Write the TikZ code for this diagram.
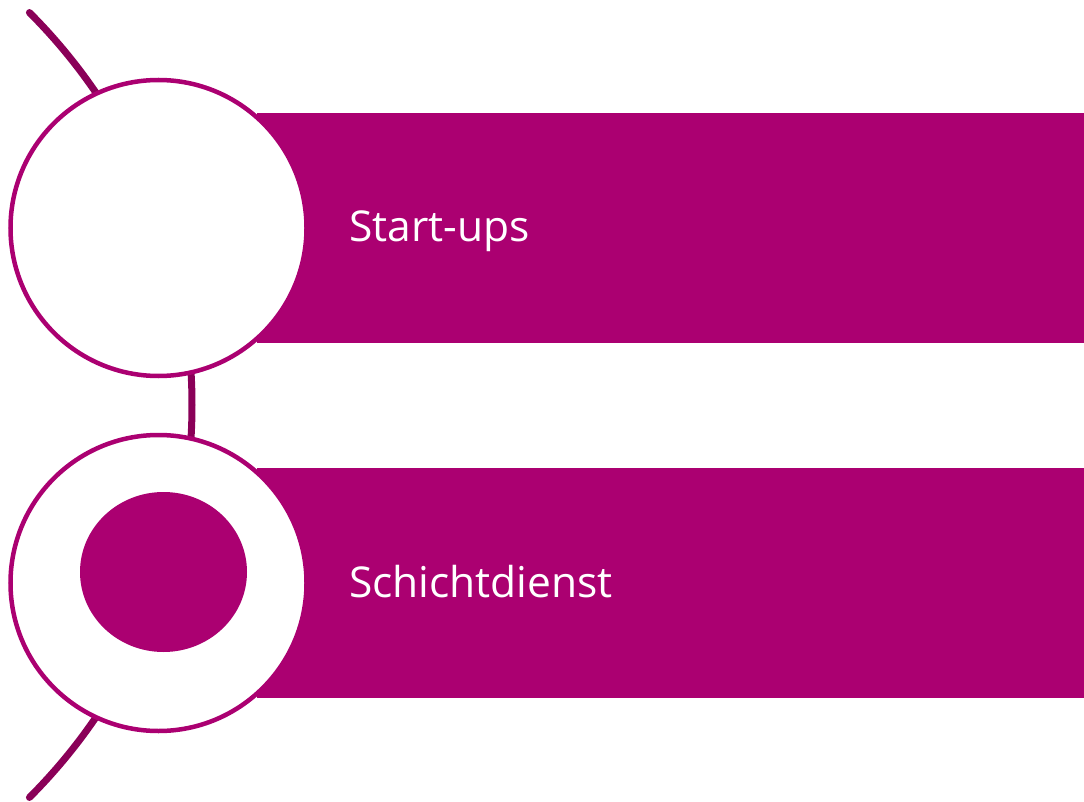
\documentclass[tikz,border=0pt]{standalone}
\usepackage{fontspec}
\setmainfont{Open Sans}
\usepackage{tikz}
\usetikzlibrary{positioning}
\definecolor{berry}{HTML}{AB0071}
\definecolor{darkberry}{HTML}{8A0058}

\begin{document}
\begin{tikzpicture}[x=1pt, y=-1pt, bar/.style = {fill=berry, anchor=north west, minimum width=827pt, minimum height=230pt, inner sep=0pt}, ring/.style = {circle, draw=berry, line width=4.5pt, fill=white, minimum size=296pt, inner sep=0pt}, label/.style = {text=white, font=\fontsize{42.5}{50}\selectfont, anchor=base west, inner sep=0pt}]
\useasboundingbox (0,0) rectangle (1084,802);
\draw[darkberry, line width=7pt, line cap=round] (-363,405) ++(-45:555) arc (-45:45:555);
\node[bar](bar1) at (257,113){};
\node[bar](bar2) at (257,468){};
\node[ring](ring1) at (158.5,228){};
\node[ring](ring2) at (158.5,583){};
\fill[berry] (163.5,572) ellipse (83.5 and 80);
\node[label](start) at (349,242){Start-ups};
\node[label](schicht) at (349,597){Schichtdienst};
\end{tikzpicture}
\end{document}
